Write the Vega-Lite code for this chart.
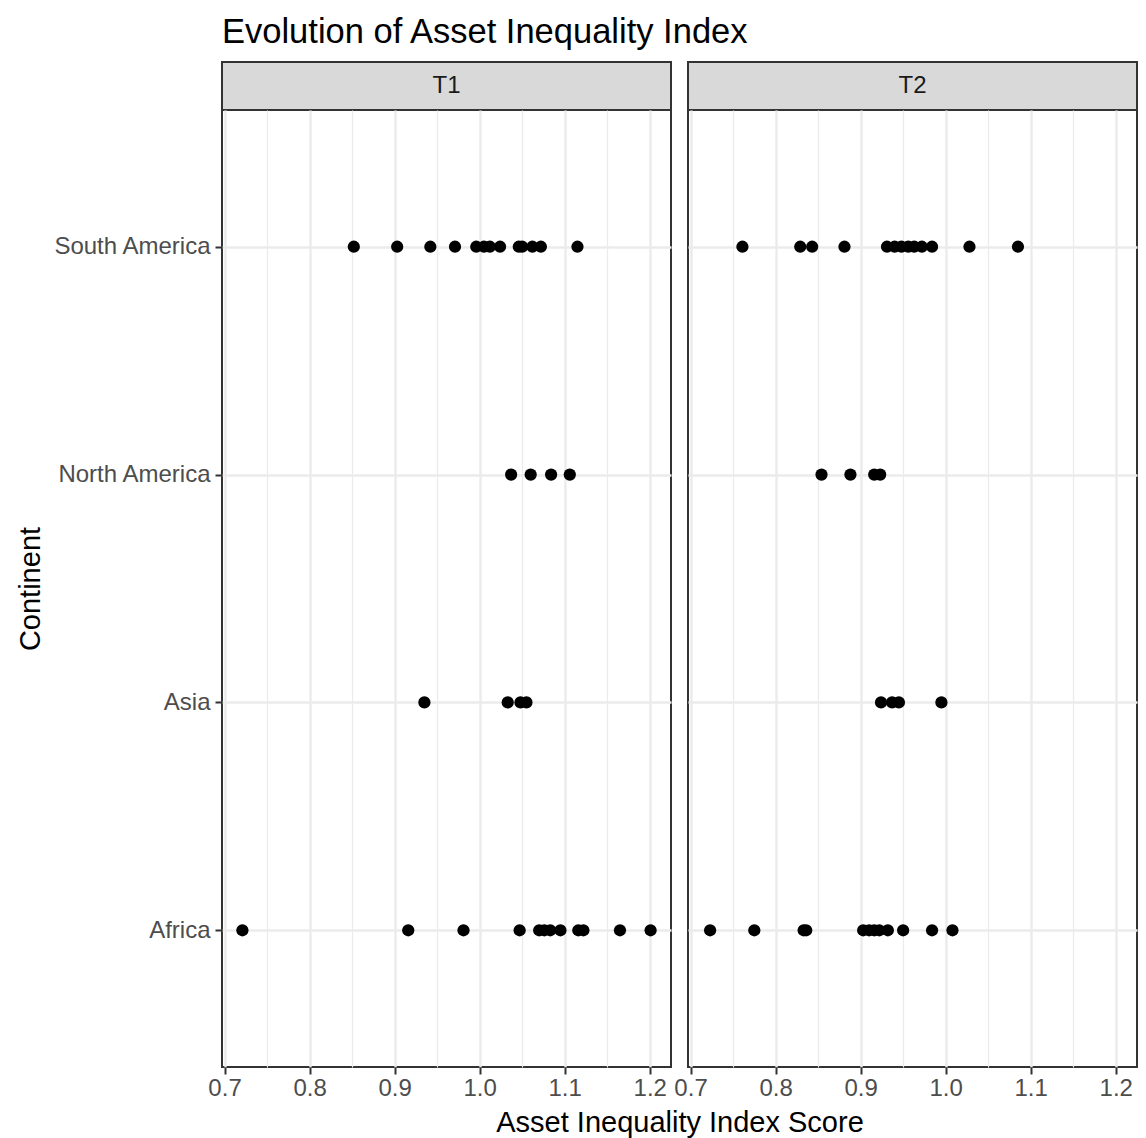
{
  "$schema": "https://vega.github.io/schema/vega-lite/v6.json",
  "padding": {"left": 15, "top": 14, "right": 4, "bottom": 1},
  "background": "white",
  "title": {"text": "Evolution of Asset Inequality Index", "anchor": "start", "frame": "group", "fontSize": 34.5, "font": "Liberation Sans", "fontWeight": "normal", "color": "#000000", "offset": 11},
  "datasets": {
    "panels": [{"period": "T1"}, {"period": "T2"}],
    "points": [
      {"continent": "South America", "period": "T1", "score": 0.852},
      {"continent": "South America", "period": "T1", "score": 0.903},
      {"continent": "South America", "period": "T1", "score": 0.942},
      {"continent": "South America", "period": "T1", "score": 0.971},
      {"continent": "South America", "period": "T1", "score": 0.996},
      {"continent": "South America", "period": "T1", "score": 1.005},
      {"continent": "South America", "period": "T1", "score": 1.012},
      {"continent": "South America", "period": "T1", "score": 1.024},
      {"continent": "South America", "period": "T1", "score": 1.046},
      {"continent": "South America", "period": "T1", "score": 1.050},
      {"continent": "South America", "period": "T1", "score": 1.062},
      {"continent": "South America", "period": "T1", "score": 1.072},
      {"continent": "South America", "period": "T1", "score": 1.115},
      {"continent": "South America", "period": "T2", "score": 0.761},
      {"continent": "South America", "period": "T2", "score": 0.829},
      {"continent": "South America", "period": "T2", "score": 0.843},
      {"continent": "South America", "period": "T2", "score": 0.881},
      {"continent": "South America", "period": "T2", "score": 0.931},
      {"continent": "South America", "period": "T2", "score": 0.940},
      {"continent": "South America", "period": "T2", "score": 0.948},
      {"continent": "South America", "period": "T2", "score": 0.956},
      {"continent": "South America", "period": "T2", "score": 0.963},
      {"continent": "South America", "period": "T2", "score": 0.972},
      {"continent": "South America", "period": "T2", "score": 0.984},
      {"continent": "South America", "period": "T2", "score": 1.028},
      {"continent": "South America", "period": "T2", "score": 1.085},
      {"continent": "North America", "period": "T1", "score": 1.037},
      {"continent": "North America", "period": "T1", "score": 1.060},
      {"continent": "North America", "period": "T1", "score": 1.084},
      {"continent": "North America", "period": "T1", "score": 1.106},
      {"continent": "North America", "period": "T2", "score": 0.854},
      {"continent": "North America", "period": "T2", "score": 0.888},
      {"continent": "North America", "period": "T2", "score": 0.916},
      {"continent": "North America", "period": "T2", "score": 0.923},
      {"continent": "Asia", "period": "T1", "score": 0.935},
      {"continent": "Asia", "period": "T1", "score": 1.033},
      {"continent": "Asia", "period": "T1", "score": 1.048},
      {"continent": "Asia", "period": "T1", "score": 1.055},
      {"continent": "Asia", "period": "T2", "score": 0.924},
      {"continent": "Asia", "period": "T2", "score": 0.937},
      {"continent": "Asia", "period": "T2", "score": 0.945},
      {"continent": "Asia", "period": "T2", "score": 0.995},
      {"continent": "Africa", "period": "T1", "score": 0.721},
      {"continent": "Africa", "period": "T1", "score": 0.916},
      {"continent": "Africa", "period": "T1", "score": 0.981},
      {"continent": "Africa", "period": "T1", "score": 1.047},
      {"continent": "Africa", "period": "T1", "score": 1.070},
      {"continent": "Africa", "period": "T1", "score": 1.076},
      {"continent": "Africa", "period": "T1", "score": 1.083},
      {"continent": "Africa", "period": "T1", "score": 1.095},
      {"continent": "Africa", "period": "T1", "score": 1.116},
      {"continent": "Africa", "period": "T1", "score": 1.122},
      {"continent": "Africa", "period": "T1", "score": 1.165},
      {"continent": "Africa", "period": "T1", "score": 1.201},
      {"continent": "Africa", "period": "T2", "score": 0.723},
      {"continent": "Africa", "period": "T2", "score": 0.775},
      {"continent": "Africa", "period": "T2", "score": 0.833},
      {"continent": "Africa", "period": "T2", "score": 0.836},
      {"continent": "Africa", "period": "T2", "score": 0.903},
      {"continent": "Africa", "period": "T2", "score": 0.910},
      {"continent": "Africa", "period": "T2", "score": 0.916},
      {"continent": "Africa", "period": "T2", "score": 0.922},
      {"continent": "Africa", "period": "T2", "score": 0.932},
      {"continent": "Africa", "period": "T2", "score": 0.950},
      {"continent": "Africa", "period": "T2", "score": 0.984},
      {"continent": "Africa", "period": "T2", "score": 1.008}
    ]
  },
  "columns": 2,
  "spacing": {"row": 0, "column": 17},
  "bounds": "flush",
  "concat": [
    {
      "data": {"name": "panels"},
      "transform": [{"filter": "datum.period === 'T1'"}],
      "width": 449, "height": 48,
      "view": {"fill": "#D9D9D9", "stroke": "#333333", "strokeWidth": 2},
      "mark": {"type": "text", "fontSize": 24, "color": "#1A1A1A", "align": "center", "baseline": "middle", "font": "Liberation Sans"},
      "encoding": {"text": {"field": "period", "type": "nominal"}}
    },
    {
      "data": {"name": "panels"},
      "transform": [{"filter": "datum.period === 'T2'"}],
      "width": 449, "height": 48,
      "view": {"fill": "#D9D9D9", "stroke": "#333333", "strokeWidth": 2},
      "mark": {"type": "text", "fontSize": 24, "color": "#1A1A1A", "align": "center", "baseline": "middle", "font": "Liberation Sans"},
      "encoding": {"text": {"field": "period", "type": "nominal"}}
    },
    {
      "data": {"name": "points"},
      "transform": [{"filter": "datum.period === 'T1'"}],
      "width": 449, "height": 957,
      "view": {"fill": "white", "stroke": "#333333", "strokeWidth": 2},
      "mark": {"type": "circle", "size": 150, "color": "#000000", "opacity": 1},
      "encoding": {
        "x": {
          "field": "score", "type": "quantitative",
          "scale": {"domain": [0.697, 1.225], "nice": false, "zero": false},
          "axis": {
            "values": [0.7, 0.75, 0.8, 0.85, 0.9, 0.95, 1.0, 1.05, 1.1, 1.15, 1.2],
            "labelExpr": "round(datum.value*100) % 10 === 0 ? format(datum.value, '.1f') : ''",
            "labelOverlap": false, "labelFlush": false,
            "labelFontSize": 24, "labelColor": "#4D4D4D", "labelPadding": 2, "labelFont": "Liberation Sans",
            "tickColor": "#333333", "tickWidth": 2, "tickSize": 7,
            "tickOpacity": {"condition": {"test": "round(datum.value*100) % 10 !== 0", "value": 0}, "value": 1},
            "grid": true, "gridColor": "#EBEBEB",
            "gridWidth": {"condition": {"test": "round(datum.value*100) % 10 !== 0", "value": 1.2}, "value": 2.4},
            "domain": false,
            "title": "Asset Inequality Index Score", "titleFontSize": 29, "titleFontWeight": "normal", "titleColor": "#000000", "titleFont": "Liberation Sans",
            "titleX": 457.5, "titlePadding": 8
          }
        },
        "y": {
          "field": "continent", "type": "nominal", "sort": "descending",
          "scale": {"type": "point", "padding": 0.6},
          "axis": {
            "title": "Continent", "titleFontSize": 29, "titleFontWeight": "normal", "titleColor": "#000000", "titlePadding": 7, "titleFont": "Liberation Sans",
            "labelFontSize": 24, "labelColor": "#4D4D4D", "labelPadding": 5, "labelFont": "Liberation Sans",
            "tickColor": "#333333", "tickWidth": 2, "tickSize": 7,
            "grid": true, "gridColor": "#EBEBEB", "gridWidth": 2.4, "domain": false
          }
        }
      }
    },
    {
      "data": {"name": "points"},
      "transform": [{"filter": "datum.period === 'T2'"}],
      "width": 449, "height": 957,
      "view": {"fill": "white", "stroke": "#333333", "strokeWidth": 2},
      "mark": {"type": "circle", "size": 150, "color": "#000000", "opacity": 1},
      "encoding": {
        "x": {
          "field": "score", "type": "quantitative",
          "scale": {"domain": [0.697, 1.225], "nice": false, "zero": false},
          "axis": {
            "values": [0.7, 0.75, 0.8, 0.85, 0.9, 0.95, 1.0, 1.05, 1.1, 1.15, 1.2],
            "labelExpr": "round(datum.value*100) % 10 === 0 ? format(datum.value, '.1f') : ''",
            "labelOverlap": false, "labelFlush": false,
            "labelFontSize": 24, "labelColor": "#4D4D4D", "labelPadding": 2, "labelFont": "Liberation Sans",
            "tickColor": "#333333", "tickWidth": 2, "tickSize": 7,
            "tickOpacity": {"condition": {"test": "round(datum.value*100) % 10 !== 0", "value": 0}, "value": 1},
            "grid": true, "gridColor": "#EBEBEB",
            "gridWidth": {"condition": {"test": "round(datum.value*100) % 10 !== 0", "value": 1.2}, "value": 2.4},
            "domain": false,
            "title": null
          }
        },
        "y": {
          "field": "continent", "type": "nominal", "sort": "descending",
          "scale": {"type": "point", "padding": 0.6},
          "axis": {
            "title": null, "labels": false, "ticks": false,
            "grid": true, "gridColor": "#EBEBEB", "gridWidth": 2.4, "domain": false
          }
        }
      }
    }
  ],
  "config": {"font": "Liberation Sans"}
}
